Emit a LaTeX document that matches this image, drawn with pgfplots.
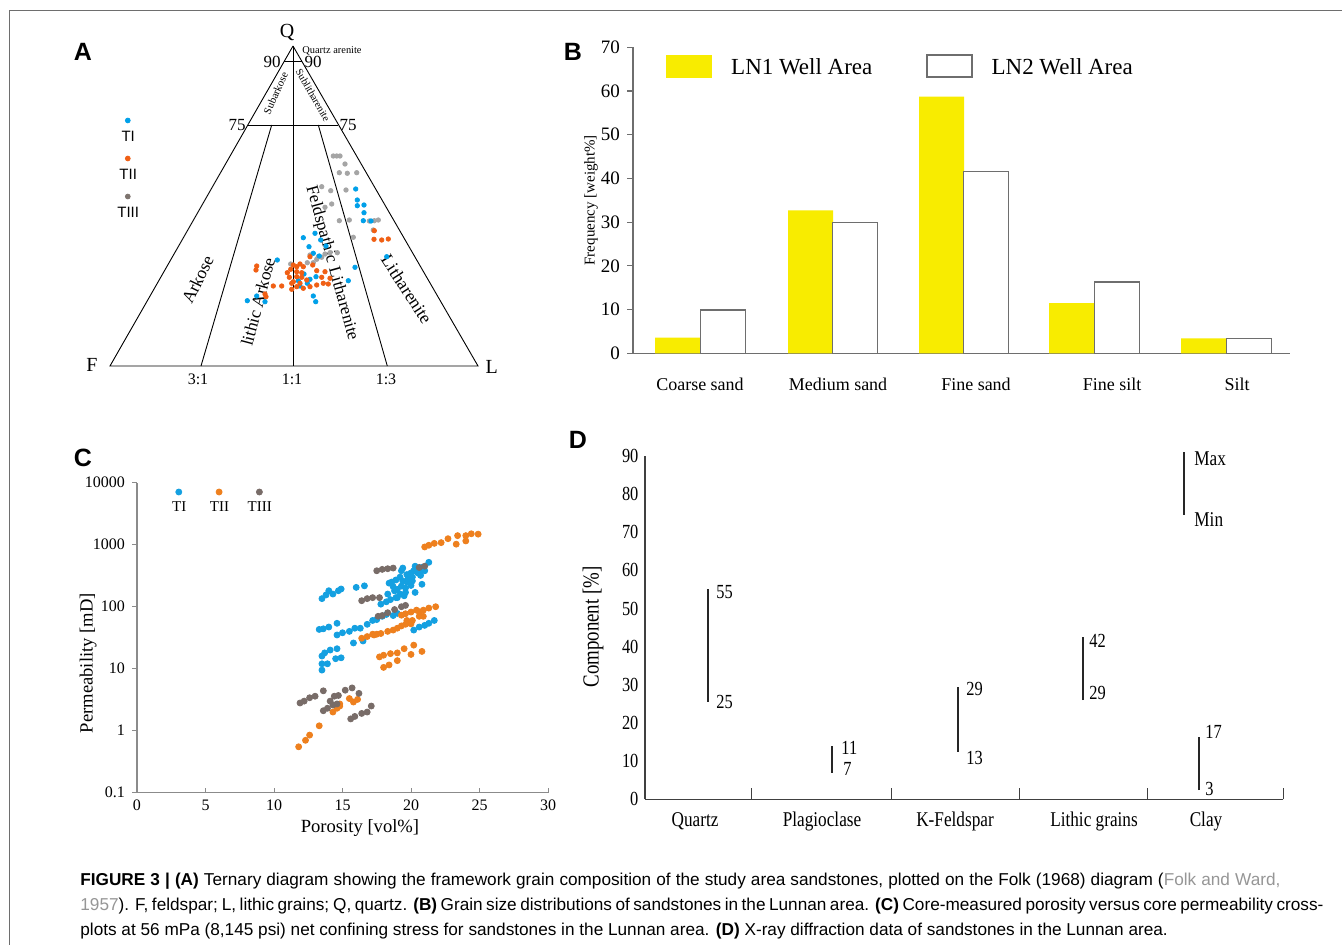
\documentclass[border=0pt]{standalone}
\usepackage{fontspec}
\setmainfont{Liberation Serif}
\newfontfamily\sffont{Liberation Sans}
\newfontfamily\dfont{Liberation Serif}[FakeStretch=0.82]
\usepackage{pgfplots}
\pgfplotsset{compat=1.18}
\newcommand{\fs}[1]{\fontsize{#1}{#1}\selectfont}
\definecolor{tiblue}{RGB}{0,160,233}
\definecolor{tiiorange}{RGB}{240,95,20}
\definecolor{tiiigray}{RGB}{165,165,165}
\definecolor{legray}{RGB}{125,115,110}
\definecolor{cblue}{RGB}{20,160,225}
\definecolor{corange}{RGB}{238,128,30}
\definecolor{cgray}{RGB}{120,108,104}
\definecolor{lnyellow}{RGB}{248,236,0}
\definecolor{axgray}{RGB}{110,110,110}
\definecolor{capgray}{RGB}{150,150,150}

\begin{document}
\begin{tikzpicture}
\useasboundingbox (0,0) rectangle (671pt,-472.5pt);
\fill[white] (0,0) rectangle (671pt,-472.5pt);
\draw[axgray, line width=0.6pt] (4.85pt,-472.5pt) -- (4.85pt,-5.25pt) -- (671pt,-5.25pt);

% panel letters
\node[font=\sffont\bfseries\fs{12.5}] at (41.5pt,-26pt) {A};
\node[font=\sffont\bfseries\fs{12.5}] at (286.5pt,-26pt) {B};
\node[font=\sffont\bfseries\fs{12.5}] at (41.5pt,-229pt) {C};
\node[font=\sffont\bfseries\fs{12.5}] at (289pt,-220pt) {D};

%% ---------------- A: ternary diagram (pixel coordinates)
\begin{axis}[at={(40pt,-197.5pt)}, anchor=south west, scale only axis,
  width=220pt, height=187.5pt, xmin=80, xmax=520, ymin=20, ymax=395,
  y dir=reverse, hide axis, clip=false,
  legend image code/.code={\path (0pt,0pt); \draw[#1,overlay] plot coordinates {(6pt,8pt)};},
  legend style={at={(axis cs:115,174.5)}, anchor=west, draw=none, fill=none,
    inner sep=0pt, row sep=13.85pt, cells={anchor=west},
    nodes={inner sep=0pt, text depth=0pt, font=\sffont\fs{7.5}}},
]
\addlegendimage{only marks, mark=*, mark size=1.2pt, color=tiblue}
\addlegendentry{\makebox[12pt]{TI}}
\addlegendimage{only marks, mark=*, mark size=1.2pt, color=tiiorange}
\addlegendentry{\makebox[12pt]{TII}}
\addlegendimage{only marks, mark=*, mark size=1.2pt, color=legray}
\addlegendentry{\makebox[12pt]{TIII}}
% frame of the Folk diagram
\addplot[black, line width=0.45pt, forget plot] coordinates {(293,46) (110,366) (478,366) (293,46)};
\addplot[black, line width=0.45pt, forget plot] coordinates {(284,61.7) (302,61.7)};
\addplot[black, line width=0.45pt, forget plot] coordinates {(248,125) (338,125)};
\addplot[black, line width=0.45pt, forget plot] coordinates {(293,46) (293,366)};
\addplot[black, line width=0.45pt, forget plot] coordinates {(271.7,125) (201,366)};
\addplot[black, line width=0.45pt, forget plot] coordinates {(318.3,125) (387.3,366)};
% TIII
\addplot[only marks, mark=*, mark size=1.1pt, color=tiiigray, forget plot] coordinates {
(333.3,156) (336.7,156) (340,156) (345,164) (339.3,172.7) (347.3,173.3) (356.7,172.7)
(321.7,186.7) (330.7,190.7) (346,190) (325,207.3) (331.7,204) (339.3,220.7) (349.3,220)
(374.3,220.7) (378.3,220) (373.3,230) (353.3,237.3) (330,252.7) (337.3,252.7) (321.7,257.3)
(316.7,259.3) (313.3,262.7) (290.7,264) (310,255) (307.3,262.7) (318.3,256.7) (325,254) (369.3,221)};
% TI
\addplot[only marks, mark=*, mark size=1.1pt, color=tiblue, forget plot] coordinates {
(355.7,189) (357.3,200) (364,205) (357.3,205.7) (364,212.7) (363.3,220.7) (371,221)
(303.3,237.7) (315,233.3) (309,246.7) (320.7,240) (326,246) (386.7,256.7) (277.3,260)
(313.3,253.3) (319.3,256) (355,267.3) (348.3,280.7) (247.3,300.7) (256.7,296) (265,301.7)
(298.3,280.7) (307.3,283.3) (304,274) (300,286) (310,279.3) (316,276.7) (313.3,296) (315.7,301.7)};
% TII
\addplot[only marks, mark=*, mark size=1.1pt, color=tiiorange, forget plot] coordinates {
(374.3,230.7) (374,239.3) (381.7,240) (388.3,239) (256.7,266) (256,270) (265,294) (273.3,286)
(281.7,286) (287.3,272.7) (289.3,277.3) (291.7,283.3) (293.3,265) (296.7,266.7) (300,264)
(303.3,266.7) (290.7,269.3) (296.7,271.7) (301.7,272.7) (296.7,276.7) (301.7,277.3) (306.7,280)
(293.3,281.7) (300,283.3) (296.7,286.7) (303.3,288.3) (310,286.7) (316.7,285) (323.3,283.3)
(328.3,284) (330,278.3) (325,271.7) (321.7,277.3) (316.7,270.7) (312.7,265) (310,256.7)
(291.7,289.3) (266,296.7)};
% labels
\node[font=\fs{10}] at (axis cs:287,32.7) {Q};
\node[font=\fs{10}] at (axis cs:92,365) {F};
\node[font=\fs{10}] at (axis cs:491.7,366.7) {L};
\node[font=\fs{5.2}] at (axis cs:332,50.7) {Quartz arenite};
\node[font=\fs{8.5}] at (axis cs:272,61.7) {90};
\node[font=\fs{8.5}] at (axis cs:313,61.7) {90};
\node[font=\fs{8.5}] at (axis cs:237,125) {75};
\node[font=\fs{8.5}] at (axis cs:348,125) {75};
\node[font=\fs{8}] at (axis cs:198,379) {3:1};
\node[font=\fs{8}] at (axis cs:292,379) {1:1};
\node[font=\fs{8}] at (axis cs:386,379) {1:3};
\node[font=\fs{5.4}, rotate=66] at (axis cs:275.7,93.3) {Subarkose};
\node[font=\fs{5.2}, rotate=-60] at (axis cs:313,95) {Sublitharenite};
\node[font=\fs{8.8}, rotate=64] at (axis cs:197.7,279.3) {Arkose};
\node[font=\fs{8.7}, rotate=75] at (axis cs:258,301.7) {lithic Arkose};
\node[font=\fs{8.6}, rotate=-74.5] at (axis cs:331.7,263.3) {Feldspathic Litharenite};
\node[font=\fs{8.9}, rotate=-57] at (axis cs:406.7,289.3) {Litharenite};
\end{axis}

%% ---------------- B: grain size bars
\begin{axis}[at={(316.5pt,-176.65pt)}, anchor=south west, scale only axis,
  width=328.5pt, height=153pt, xmin=633, xmax=1290, ymin=0, ymax=70,
  axis lines=left, axis line style={-, draw=axgray, line width=0.7pt},
  ytick={0,10,...,70}, ytick align=outside, major tick length=3pt,
  ytick style={draw=axgray, line width=0.6pt},
  xtick={700,838,976,1112,1237},
  xticklabels={Coarse sand, Medium sand, Fine sand, Fine silt, Silt},
  xtick style={draw=none},
  xticklabel style={anchor=center, yshift=-14pt, font=\fs{9}},
  yticklabel style={font=\fs{9.5}},
  /pgf/number format/assume math mode=true,
  ylabel={Frequency [weight\%]},
  every axis y label/.style={at={(axis description cs:-0.0639,0.5)}, rotate=90, anchor=center, font=\fs{7.5}},
  legend columns=2,
  legend style={at={(axis cs:666,65.7)}, anchor=west, draw=none, fill=none,
    inner sep=0pt, cells={anchor=west},
    nodes={inner sep=0pt, text depth=0pt, font=\fs{11.5}},
    /tikz/every odd column/.append style={column sep=9.5pt},
    /tikz/every even column/.append style={column sep=27pt}},
  clip=false,
]
\addlegendimage{legend image code/.code={\fill[lnyellow] (0pt,-5.5pt) rectangle (22.5pt,5.5pt);}}
\addlegendentry{LN1 Well Area}
\addlegendimage{legend image code/.code={\draw[axgray, line width=0.6pt, fill=white] (0pt,-5.5pt) rectangle (22.5pt,5.5pt);}}
\addlegendentry{LN2 Well Area}
\addplot[ybar, bar width=45, bar shift=0pt, fill=lnyellow, draw=none, forget plot]
  coordinates {(677.5,3.6) (810.5,32.7) (941.5,58.7) (1071.5,11.5) (1203.5,3.4)};
\addplot[ybar, bar width=45, bar shift=0pt, fill=white, draw=axgray, line width=0.6pt, forget plot]
  coordinates {(723,9.9) (855,30.0) (986,41.5) (1117,16.3) (1249,3.4)};
\end{axis}

%% ---------------- C: porosity vs permeability
\begin{axis}[at={(68.5pt,-396.35pt)}, anchor=south west, scale only axis,
  width=205.5pt, height=155pt, xmin=0, xmax=30, ymode=log, ymin=0.1, ymax=10000,
  axis lines=left, axis line style={-, draw=axgray!80, line width=0.6pt},
  xtick={0,5,...,30}, ytick={0.1,1,10,100,1000,10000},
  yticklabels={0.1,1,10,100,1000,10000}, yminorticks=false,
  xtick align=inside, ytick align=outside, major tick length=2.5pt,
  tick style={draw=axgray!80, line width=0.5pt},
  tick label style={font=\fs{8}},
  /pgf/number format/assume math mode=true,
  xlabel={Porosity [vol\%]}, ylabel={Permeability [mD]},
  every axis x label/.style={at={(axis description cs:0.5426,-0.113)}, anchor=center, font=\fs{9.3}},
  every axis y label/.style={at={(axis description cs:-0.119,0.418)}, rotate=90, anchor=center, font=\fs{9.3}},
  legend image code/.code={\path (0pt,0pt); \draw[#1,overlay] plot coordinates {(6.5pt,7.5pt)};},
  legend columns=3,
  legend style={at={(axis description cs:0.0681,0.9216)}, anchor=west, draw=none, fill=none,
    inner sep=0pt, cells={anchor=west},
    nodes={inner sep=0pt, text depth=0pt, font=\fs{7.5}},
    /tikz/every even column/.append style={column sep=6.75pt}},
  clip=false,
]
\addplot[only marks, mark=*, mark size=1.5pt, color=cblue] coordinates {
(13.5,135) (13.8,155) (14.0,181) (14.3,160) (14.7,181) (14.9,193) (16.0,205) (16.6,217)
(13.3,43) (13.6,44) (14.0,47) (14.6,54) (14.6,35) (15.0,38) (15.5,40) (15.9,45) (16.3,45)
(16.5,28) (15.8,26) (16.8,52) (17.2,60) (17.5,62) (17.9,70) (18.2,75) (18.7,72) (19.0,78)
(13.5,9.5) (13.5,12) (13.9,12) (13.5,16) (13.7,18) (14.1,20) (14.6,21) (14.5,14.5) (14.9,15)
(17.8,110) (18.2,120) (18.3,160) (18.4,240) (18.6,250) (18.8,180) (18.9,270) (19.0,140)
(19.2,300) (19.3,380) (19.4,420) (19.5,150) (19.6,200) (19.7,250) (19.8,290) (19.9,330)
(20.0,350) (20.1,300) (20.2,380) (20.3,450) (20.4,400) (20.5,350) (20.6,370) (20.8,430)
(21.0,380) (21.3,520) (20.8,230) (20.3,170) (20.0,220) (19.6,170) (19.2,160) (18.9,140) (19.3,215)
(18.5,130) (19.0,190) (19.4,260) (20.1,260) (20.7,320) (19.7,330) (18.7,210)
(20.2,42) (20.6,47) (21.0,50) (21.3,54) (21.7,60)};
\addlegendentry{\makebox[13pt]{TI}}
\addplot[only marks, mark=*, mark size=1.5pt, color=corange] coordinates {
(21.0,920) (21.3,980) (21.7,1050) (22.2,1080) (22.7,1250) (23.4,1400) (23.3,1020) (24.0,1400)
(24.4,1500) (24.9,1480) (24.0,1150)
(16.4,31) (16.8,33) (17.2,36) (17.5,36) (17.8,37) (18.3,40) (18.7,42) (19.0,45) (19.3,49)
(19.6,52) (19.9,55) (20.1,60) (20.0,53) (19.7,60) (19.3,73) (19.6,77) (20.0,82) (20.4,88)
(20.6,83) (20.9,88) (21.3,95) (21.8,100) (20.6,70) (20.9,70) (17.3,35)
(17.7,15.5) (18.0,16.5) (18.5,17.5) (19.0,18) (19.5,21) (20.2,24) (20.0,17) (20.8,19)
(18.0,10.5) (18.4,11.5) (19.0,13.5)
(11.8,0.55) (12.3,0.7) (12.6,0.85) (13.3,1.2) (14.3,2.0) (14.6,2.3) (14.8,2.5) (14.8,2.7)
(15.5,3.3) (15.8,2.9) (16.1,3.2) (14.6,2.4)};
\addlegendentry{\makebox[13pt]{TII}}
\addplot[only marks, mark=*, mark size=1.5pt, color=cgray] coordinates {
(11.9,2.8) (12.2,3.0) (12.6,3.4) (13.0,3.6) (13.6,4.4) (13.6,2.1) (13.9,2.3) (14.1,3.0)
(14.3,2.6) (14.4,3.6) (14.6,2.7) (14.7,3.7) (15.2,4.5) (15.7,4.9) (16.2,4.0) (15.6,1.55)
(15.9,1.7) (16.4,1.9) (16.8,2.0) (17.1,2.5)
(16.4,125) (16.8,135) (17.2,140) (17.7,140) (17.6,70) (17.9,72) (18.3,80) (18.8,90)
(19.3,100) (19.6,105) (17.5,380) (17.9,400) (18.3,410) (18.7,420) (20.6,430) (21.0,450)};
\addlegendentry{\makebox[13pt]{TIII}}
\end{axis}

%% ---------------- D: XRD ranges
\begin{axis}[at={(322.5pt,-399.65pt)}, anchor=south west, scale only axis,
  width=319pt, height=171.75pt, xmin=645, xmax=1283, ymin=0, ymax=90,
  axis lines=left, axis line style={-, draw=black!75, line width=0.6pt},
  major tick length=5.5pt,
  ytick={0,10,...,90}, ytick style={draw=none},
  xtick={751,891,1019,1147,1283}, xticklabels={},
  xtick align=inside, xtick style={draw=black!75, line width=0.5pt},
  extra x ticks={695,822,955,1094,1206},
  extra x tick labels={Quartz, Plagioclase, K-Feldspar, Lithic grains, Clay},
  extra x tick style={xtick style={draw=none},
    xticklabel style={anchor=center, yshift=-11pt, font=\dfont\fs{10.5}}},
  yticklabel style={font=\dfont\fs{10}, xshift=3pt},
  /pgf/number format/assume math mode=true,
  ylabel={Component [\%]},
  every axis y label/.style={at={(axis description cs:-0.0815,0.5016)}, rotate=90, anchor=center, font=\dfont\fs{11.5}},
  clip=false,
]
\addplot[black!85, line width=1pt] coordinates {(708,25.6) (708,55)};
\addplot[black!85, line width=1pt] coordinates {(832,7) (832,14)};
\addplot[black!85, line width=1pt] coordinates {(958,12.5) (958,29.5)};
\addplot[black!85, line width=1pt] coordinates {(1083,26) (1083,42.6)};
\addplot[black!85, line width=1pt] coordinates {(1199,2.4) (1199,16.4)};
\addplot[black!85, line width=1pt] coordinates {(1184,74.5) (1184,90.9)};
\node[font=\dfont\fs{10}, anchor=west, inner sep=0pt] at (axis cs:716,54.4) {55};
\node[font=\dfont\fs{10}, anchor=west, inner sep=0pt] at (axis cs:716,25.6) {25};
\node[font=\dfont\fs{10}, anchor=west, inner sep=0pt] at (axis cs:841,13.4) {11};
\node[font=\dfont\fs{10}, anchor=west, inner sep=0pt] at (axis cs:843,7.9) {7};
\node[font=\dfont\fs{10}, anchor=west, inner sep=0pt] at (axis cs:966,28.8) {29};
\node[font=\dfont\fs{10}, anchor=west, inner sep=0pt] at (axis cs:966,10.7) {13};
\node[font=\dfont\fs{10}, anchor=west, inner sep=0pt] at (axis cs:1089,41.6) {42};
\node[font=\dfont\fs{10}, anchor=west, inner sep=0pt] at (axis cs:1089,27.9) {29};
\node[font=\dfont\fs{10}, anchor=west, inner sep=0pt] at (axis cs:1205,17.7) {17};
\node[font=\dfont\fs{10}, anchor=west, inner sep=0pt] at (axis cs:1205,2.6) {3};
\node[font=\dfont\fs{10.5}, anchor=west, inner sep=0pt] at (axis cs:1194,89.3) {Max};
\node[font=\dfont\fs{10.5}, anchor=west, inner sep=0pt] at (axis cs:1194,73.4) {Min};
\end{axis}

%% ---------------- caption
\begin{scope}[every node/.style={anchor=base west, inner sep=0pt, font=\sffont\fs{8.6}}]
\node at (40pt,-442.5pt) {\makebox[600pt][s]{\textbf{FIGURE 3 | (A)} Ternary diagram showing the framework grain composition of the study area sandstones, plotted on the Folk (1968) diagram (\textcolor{capgray}{Folk and Ward,}}};
\node at (40pt,-455pt) {\makebox[621.5pt][s]{\textcolor{capgray}{1957}). F, feldspar; L, lithic grains; Q, quartz. \textbf{(B)} Grain size distributions of sandstones in the Lunnan area. \textbf{(C)} Core-measured porosity versus core permeability cross-}};
\node at (40pt,-467.5pt) {plots at 56 mPa (8,145 psi) net confining stress for sandstones in the Lunnan area. \textbf{(D)} X-ray diffraction data of sandstones in the Lunnan area.};
\end{scope}
\end{tikzpicture}
\end{document}
